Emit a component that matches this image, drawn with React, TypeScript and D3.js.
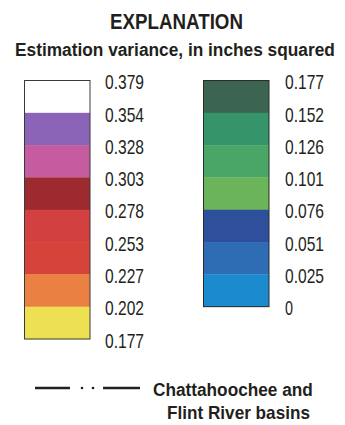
import React, { useLayoutEffect, useRef } from "react";
import * as d3 from "d3";

const leftLabels = ["0.379", "0.354", "0.328", "0.303", "0.278", "0.253", "0.227", "0.202", "0.177"];
const leftColors = ["#ffffff", "#8c64b7", "#c55c9f", "#9c2a2f", "#d2403f", "#d6433a", "#ea8142", "#ede153"];
const rightLabels = ["0.177", "0.152", "0.126", "0.101", "0.076", "0.051", "0.025", "0"];
const rightColors = ["#3b6550", "#35946a", "#49a667", "#6cb459", "#2e4f9c", "#2e6db3", "#1b8bce"];
const title = "EXPLANATION";
const subtitle = "Estimation variance, in inches squared";
const basinLabel = ["Chattahoochee and", "Flint River basins"];

const FONT = "'Liberation Sans', Arial, sans-serif";
const INK = "#231f20";

export default function App() {
  const ref = useRef<SVGSVGElement>(null);
  const bandY = d3.scaleLinear().domain([0, 8]).range([80.5, 339]);
  const lineX = d3.scaleLinear().domain([0, 1]).range([35, 140]);
  const labelLen = (l: string) => (l.length === 1 ? 8 : 39);

  useLayoutEffect(() => {
    if (!ref.current) return;
    d3.select(ref.current)
      .selectAll<SVGTextElement, unknown>("text[data-w]")
      .each(function () {
        const el = this as SVGTextElement;
        const w = +el.getAttribute("data-w")!;
        const x = +el.getAttribute("data-x")!;
        const y = +el.getAttribute("data-y")!;
        const natural = el.getComputedTextLength();
        const s = natural > 0 ? w / natural : 1;
        el.setAttribute("x", "0");
        el.setAttribute("y", "0");
        el.setAttribute("transform", `translate(${x},${y}) scale(${s},1)`);
      });
  }, []);

  const T = (props: {
    x: number;
    y: number;
    w: number;
    size: number;
    bold?: boolean;
    dy?: string;
    children: string;
  }) => (
    <text
      x={props.x}
      y={props.y}
      data-x={props.x}
      data-y={props.y}
      data-w={props.w}
      dy={props.dy}
      fontSize={props.size}
      fontWeight={props.bold ? "bold" : "normal"}
      fill={INK}
    >
      {props.children}
    </text>
  );

  return (
    <svg
      ref={ref}
      width={345}
      height={425}
      style={{ position: "absolute", left: 0, top: 0, background: "#fff" }}
      fontFamily={FONT}
    >
      <rect width={345} height={425} fill="#fff" />
      <T x={110} y={29} w={133} size={22} bold>
        {title}
      </T>
      <T x={15} y={56} w={320} size={19} bold>
        {subtitle}
      </T>

      {/* Left bar */}
      <g>
        {leftColors.map((c, i) => (
          <rect key={i} x={24.5} y={bandY(i)} width={65.5} height={bandY(i + 1) - bandY(i) + 0.3} fill={c} />
        ))}
        <rect x={24.5} y={bandY(0)} width={65.5} height={bandY(8) - bandY(0)} fill="none" stroke="#3a3a3a" strokeWidth={1} />
        {leftLabels.map((l, i) => (
          <T key={l + i} x={105} y={bandY(i) + 1.5} dy="0.36em" size={20} w={labelLen(l)}>
            {l}
          </T>
        ))}
      </g>

      {/* Right bar */}
      <g>
        {rightColors.map((c, i) => (
          <rect key={i} x={203.5} y={bandY(i)} width={65.5} height={bandY(i + 1) - bandY(i) + 0.3} fill={c} />
        ))}
        <rect x={203.5} y={bandY(0)} width={65.5} height={bandY(7) - bandY(0)} fill="none" stroke="#2a2a2a" strokeWidth={1} />
        {rightLabels.map((l, i) => (
          <T key={l + i} x={285} y={bandY(i) + 1.5} dy="0.36em" size={20} w={labelLen(l)}>
            {l}
          </T>
        ))}
      </g>

      {/* Basin boundary line symbol */}
      <g stroke={INK} strokeWidth={2.4}>
        <line x1={lineX(0)} x2={lineX(0.333)} y1={388} y2={388} />
        <line x1={lineX(0.648)} x2={lineX(1)} y1={388} y2={388} />
      </g>
      <circle cx={82} cy={388} r={1.3} fill={INK} />
      <circle cx={93} cy={388} r={1.3} fill={INK} />
      <T x={153} y={395.5} w={160} size={19} bold>
        {basinLabel[0]}
      </T>
      <T x={167} y={419} w={143} size={19} bold>
        {basinLabel[1]}
      </T>
    </svg>
  );
}
